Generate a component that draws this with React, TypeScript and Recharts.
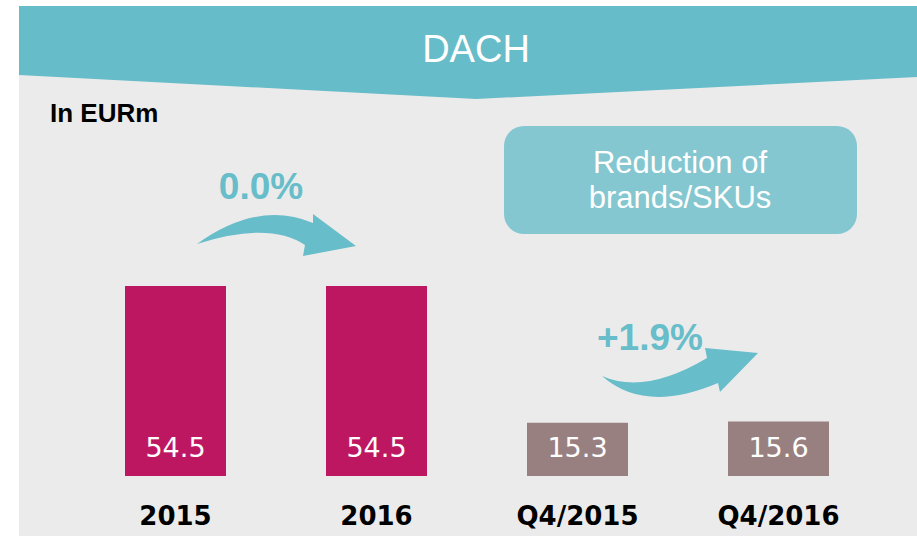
import { BarChart, Bar, XAxis, YAxis, Cell, LabelList } from "recharts";

// Sales, in EURm
const categories = ["2015", "2016", "Q4/2015", "Q4/2016"];
const sales = [54.5, 54.5, 15.3, 15.6];
const periodKind = ["year", "year", "quarter", "quarter"];
const changeLabels = ["0.0%", "+1.9%"];
const noteLines = ["Reduction of", "brands/SKUs"];
const regionTitle = "DACH";
const unitLabel = "In EURm";

const COLORS: Record<string, string> = { year: "#be1762", quarter: "#988080" };
const TEAL = "#67bdc9";
const SANS = "'Liberation Sans', Arial, sans-serif";
const DEJAVU = "'DejaVu Sans', Verdana, sans-serif";

const data = categories.map((name, i) => ({ name, value: sales[i], kind: periodKind[i] }));

function CategoryTick(props: any) {
  const { x, y, payload } = props;
  return (
    <text x={x} y={y} dy={49} textAnchor="middle" fontFamily={DEJAVU} fontWeight="bold" fontSize={26} fill="#000">
      {payload.value}
    </text>
  );
}

function ValueLabel(props: any) {
  const { x, y, width, height, value } = props;
  return (
    <text x={x + width / 2} y={y + height - 19} textAnchor="middle" fontFamily={DEJAVU} fontSize={27} fill="#fff">
      {value}
    </text>
  );
}

function Decorations() {
  return (
    <svg width={917} height={536} style={{ position: "absolute", left: 0, top: 0 }}>
      <rect x={19} y={6} width={898} height={530} fill="#ebebeb" />
      {/* banner with down-pointing bottom edge */}
      <path d="M19,6 L917,6 L917,77 L476,99 L19,75 Z" fill="#66bcc8" />
      <text x={476} y={62} textAnchor="middle" fontFamily={SANS} fontSize={38} fill="#fff">
        {regionTitle}
      </text>
      <text x={50} y={122} fontFamily={SANS} fontWeight="bold" fontSize={26} fill="#000">
        {unitLabel}
      </text>

      {/* yearly change */}
      <text x={261} y={199} textAnchor="middle" fontFamily={SANS} fontWeight="bold" fontSize={37} fill={TEAL}>
        {changeLabels[0]}
      </text>
      <path
        d="M197,244 Q258,200 313,223 L313,214 L356,246 L303,256 L305,245 Q269,221 197,244 Z"
        fill={TEAL}
      />

      {/* note box */}
      <rect x={504} y={126} width={353} height={108} rx={20} fill="#84c7d0" />
      <text x={680} y={173} textAnchor="middle" fontFamily={SANS} fontSize={31} fill="#fff">
        {noteLines[0]}
      </text>
      <text x={680} y={208} textAnchor="middle" fontFamily={SANS} fontSize={31} fill="#fff">
        {noteLines[1]}
      </text>

      {/* quarterly change */}
      <text x={650} y={350} textAnchor="middle" fontFamily={SANS} fontWeight="bold" fontSize={37} fill={TEAL}>
        {changeLabels[1]}
      </text>
      <path
        d="M602,376 Q645,414 718,383 L720,392 L758,353 L705,348 L707,358 Q645,395 602,376 Z"
        fill={TEAL}
      />
    </svg>
  );
}

export default function App() {
  return (
    <div style={{ position: "absolute", left: 0, top: 0, width: 917, height: 536, background: "#fff" }}>
      <Decorations />
      <div style={{ position: "absolute", left: 0, top: 0 }}>
        <BarChart width={917} height={536} data={data} margin={{ top: 286, right: 38, bottom: 0, left: 75 }}>
          <XAxis
            dataKey="name"
            height={60}
            axisLine={false}
            tickLine={false}
            tickSize={0}
            tickMargin={0}
            interval={0}
            tick={<CategoryTick />}
          />
          <YAxis hide domain={[0, "dataMax"]} />
          <Bar dataKey="value" barSize={101} isAnimationActive={false}>
            {data.map((d) => (
              <Cell key={d.name} fill={COLORS[d.kind]} />
            ))}
            <LabelList dataKey="value" content={<ValueLabel />} />
          </Bar>
        </BarChart>
      </div>
    </div>
  );
}
